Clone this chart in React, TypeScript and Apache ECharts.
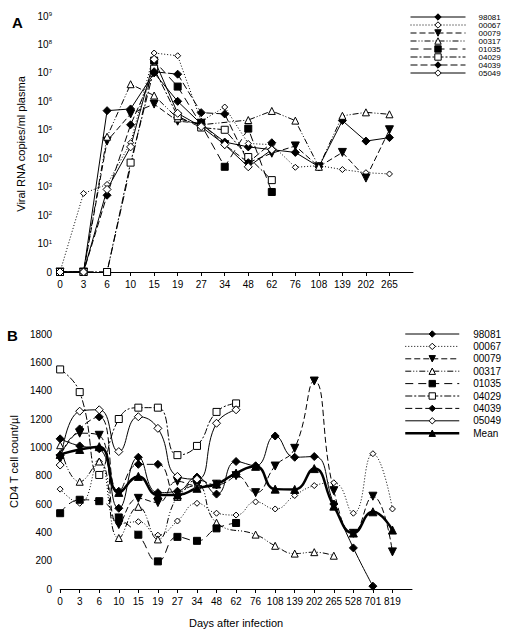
import React, { useEffect, useRef } from "react";
import * as echarts from "echarts";

// ---------- DATA ----------
const daysA = ["0", "3", "6", "10", "15", "19", "27", "34", "48", "62", "76", "108", "139", "202", "265"];
const daysB = ["0", "3", "6", "10", "15", "19", "27", "34", "48", "62", "76", "108", "139", "202", "265", "528", "701", "819"];
const patientIds = ["98081", "00067", "00079", "00317", "01035", "04029", "04039", "05049"];
const meanName = "Mean";

// Panel A: viral RNA copies/ml plasma (1 = undetectable, shown as "0")
const rna98081 = [1, 1, 4.7e5, 5.4e5, 1e7, 1e6, 1.6e5, 3.7e4, 2.5e4, 2e4, 1.6e4, 5e3, 2.1e5, 4e4, 5.3e4];
const rna00067 = [1, 580, 1.2e3, 3.5e4, 5e7, 4e7, 2e5, 6.3e5, 3.3e4, 3e4, 4.8e3, 5.5e3, 4e3, 3.1e3, 2.8e3];
const rna00079 = [1, 1, 4e4, 3.6e5, 8e5, 2e5, 1.7e5, 3e4, 7e3, 1.5e4, 2.7e4, 5e3, 1.6e4, 2e3, 1e5];
const rna00317 = [1, 1, 5.7e4, 4e6, 1.6e6, 2.5e5, 1.5e5, null, 2.2e5, 4.6e5, 2.1e5, 5e3, 3.1e5, 4.1e5, 3.5e5];
const rna01035 = [1, 1, 1, null, 2.7e7, 3.3e6, 1.5e5, 5e3, 1.1e5, 6.5e2, null, null, null, null, null];
const rna04029 = [1, 1, 1, 7e3, 1.4e7, 3e5, 1.2e5, 1e5, 1.1e4, 1.7e3, null, null, null, null, null];
const rna04039 = [1, 1, 5e2, 1.5e5, 1.1e7, 9e6, 4e5, 3.6e5, 7e3, 3.5e4, null, null, null, null, null];
const rna05049 = [1, 1, 8e2, 2.5e4, 3e7, 3.8e5, 1.3e5, 3e4, 5e3, 2e4, null, null, null, null, null];

// Panel B: CD4 T cell count/µl
const cd4_98081 = [1060, 1010, 990, 570, 930, 680, 690, 790, 670, 900, 870, 1080, 930, 935, 600, 290, 20, null];
const cd4_00067 = [705, 605, 900, 460, 475, 380, 480, 605, 535, 522, 615, 565, 660, 730, 750, 535, 955, 565];
const cd4_00079 = [920, 1100, 1085, 455, 640, 610, 760, 730, 740, 800, 680, 868, 993, 1468, 694, 393, 655, 262];
const cd4_00317 = [1015, 757, 900, 360, 580, 350, 650, 730, 468, null, 384, 305, 250, 260, 235, null, null, null];
const cd4_01035 = [535, 630, 620, 505, 383, 195, 368, 340, 428, 466, null, null, null, null, null, null, null, null];
const cd4_04029 = [1550, 1390, 805, 1200, 1280, 1280, 945, 1010, 1250, 1310, null, null, null, null, null, null, null, null];
const cd4_04039 = [945, 1130, 1215, 690, 880, 880, 660, 770, 735, 810, null, null, null, null, null, null, null, null];
const cd4_05049 = [875, 1255, 1265, 970, 1216, 1134, 795, 775, 1170, 1265, null, null, null, null, null, null, null, null];
const cd4_mean = [950, 985, 1005, 682, 795, 664, 663, 711, 741, 818, 866, 705, 703, 850, 585, 395, 545, 416];

const rnaSeries = [rna98081, rna00067, rna00079, rna00317, rna01035, rna04029, rna04039, rna05049];
const cd4Series = [cd4_98081, cd4_00067, cd4_00079, cd4_00317, cd4_01035, cd4_04029, cd4_04039, cd4_05049];

// ---------- STYLES ----------
type Sty = { symbol: string; rotate: number; filled: boolean; dash: any; size: number; width: number };
const styles: Sty[] = [
  { symbol: "diamond", rotate: 0, filled: true, dash: "solid", size: 8, width: 1 },
  { symbol: "diamond", rotate: 0, filled: false, dash: [1, 2], size: 6, width: 1 },
  { symbol: "triangle", rotate: 180, filled: true, dash: [6, 3], size: 8, width: 1 },
  { symbol: "triangle", rotate: 0, filled: false, dash: [6, 2, 1, 2, 1, 2], size: 7, width: 1 },
  { symbol: "rect", rotate: 0, filled: true, dash: [8, 5], size: 7, width: 1 },
  { symbol: "rect", rotate: 0, filled: false, dash: [7, 2, 2, 2], size: 7, width: 1 },
  { symbol: "diamond", rotate: 0, filled: true, dash: [7, 3], size: 8, width: 1 },
  { symbol: "diamond", rotate: 0, filled: false, dash: "solid", size: 8, width: 1 },
];
const meanStyle: Sty = { symbol: "triangle", rotate: 0, filled: true, dash: "solid", size: 8, width: 2.5 };

const FONT = "Liberation Sans, Arial, sans-serif";

function makeSeries(name: string, data: any[], st: Sty, axis: number, smooth: boolean) {
  return {
    name,
    type: "line",
    xAxisIndex: axis,
    yAxisIndex: axis,
    data,
    connectNulls: true,
    smooth: smooth ? 0.5 : false,
    symbol: st.symbol,
    symbolRotate: st.rotate,
    symbolSize: st.size,
    showAllSymbol: true,
    lineStyle: { color: "#000", width: st.width, type: st.dash },
    itemStyle: { color: st.filled ? "#000" : "#fff", borderColor: "#000", borderWidth: 1 },
    emphasis: { disabled: true },
  };
}

export default function App() {
  const ref = useRef<HTMLDivElement>(null);
  useEffect(() => {
    if (!ref.current) return;
    const chart = echarts.init(ref.current, undefined, { renderer: "svg" });
    const catA = [...daysA, ""];
    const catB = [...daysB, ""];
    const axisCommon = {
      axisLine: { lineStyle: { color: "#000", width: 1 } },
      axisTick: { lineStyle: { color: "#000" }, length: 4 },
      splitLine: { show: false },
    };
    const series: any[] = [];
    patientIds.forEach((id, i) => series.push(makeSeries(id, rnaSeries[i], styles[i], 0, false)));
    patientIds.forEach((id, i) => series.push(makeSeries(id, cd4Series[i], styles[i], 1, true)));
    series.push(makeSeries(meanName, cd4_mean, meanStyle, 1, true));

    const legendCommon = {
      orient: "vertical",
      itemWidth: 55,
      itemHeight: 8,
      padding: 0,
      selectedMode: false,
      lineStyle: { width: "inherit" },
      itemStyle: { borderWidth: 1 },
    };

    chart.setOption({
      animation: false,
      backgroundColor: "#fff",
      textStyle: { fontFamily: FONT },
      grid: [
        { left: 60, top: 16, width: 353, height: 256 },
        { left: 58, top: 334, width: 354, height: 255 },
      ],
      legend: [
        {
          ...legendCommon,
          left: 410,
          top: 13,
          itemGap: 0,
          data: patientIds,
          textStyle: { fontFamily: FONT, color: "#000", padding: [0, 0, 0, 8], fontSize: 8, lineHeight: 8 },
        },
        {
          ...legendCommon,
          left: 404,
          top: 329,
          itemWidth: 54,
          itemGap: 2.4,
          data: [...patientIds, meanName],
          textStyle: { fontFamily: FONT, color: "#000", padding: [0, 0, 0, 9], fontSize: 10, lineHeight: 8 },
        },
      ],
      xAxis: [
        {
          ...axisCommon,
          gridIndex: 0,
          type: "category",
          boundaryGap: false,
          data: catA,
          axisTick: { ...axisCommon.axisTick, interval: (i: number) => i < daysA.length },
          axisLabel: { interval: 0, color: "#000", fontSize: 10, fontFamily: FONT, margin: 7 },
        },
        {
          ...axisCommon,
          gridIndex: 1,
          type: "category",
          boundaryGap: false,
          data: catB,
          name: "Days after infection",
          nameLocation: "middle",
          nameGap: 28,
          nameTextStyle: { fontSize: 11, color: "#000", fontFamily: FONT },
          axisTick: { ...axisCommon.axisTick, interval: (i: number) => i < daysB.length },
          axisLabel: { interval: 0, color: "#000", fontSize: 10, fontFamily: FONT, margin: 7 },
        },
      ],
      yAxis: [
        {
          ...axisCommon,
          gridIndex: 0,
          type: "log",
          logBase: 10,
          min: 1,
          max: 1e9,
          splitNumber: 9,
          name: "Viral RNA copies/ml plasma",
          nameLocation: "middle",
          nameGap: 24,
          nameTextStyle: { fontSize: 11, color: "#000", fontFamily: FONT },
          axisLabel: {
            color: "#000",
            fontSize: 10,
            fontFamily: FONT,
            margin: 8,
            formatter: (v: number) => {
              const e = Math.round(Math.log10(v));
              return e === 0 ? "0" : `10{s|${e}}`;
            },
            rich: { s: { fontSize: 6, verticalAlign: "top", color: "#000", fontFamily: FONT } },
          },
        },
        {
          ...axisCommon,
          gridIndex: 1,
          type: "value",
          min: 0,
          max: 1800,
          interval: 200,
          name: "CD4 T cell count/\u00b5l",
          nameLocation: "middle",
          nameGap: 39,
          nameTextStyle: { fontSize: 11, color: "#000", fontFamily: FONT },
          axisLabel: { color: "#000", fontSize: 10, fontFamily: FONT, margin: 8, formatter: (v: number) => String(v) },
        },
      ],
      graphic: [
        { type: "text", left: 12, top: 15, style: { text: "A", font: "bold 15px " + FONT, fill: "#000" } },
        { type: "text", left: 7, top: 328, style: { text: "B", font: "bold 15px " + FONT, fill: "#000" } },
      ],
      series,
    });
    return () => chart.dispose();
  }, []);
  return <div ref={ref} style={{ position: "fixed", left: 0, top: 0, width: 509, height: 635, background: "#fff" }} />;
}
